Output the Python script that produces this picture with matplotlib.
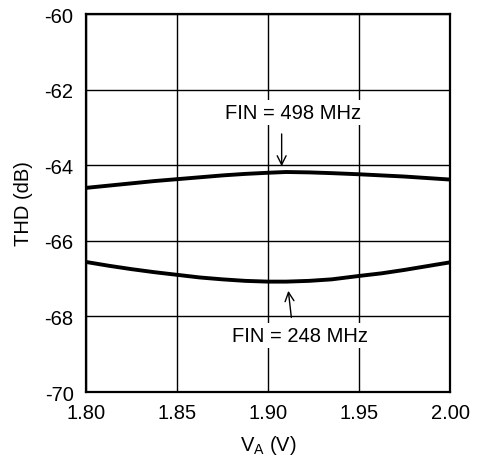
import matplotlib
matplotlib.use("Agg")
import matplotlib.pyplot as plt

plt.rcParams['font.family'] = ['Liberation Sans', 'DejaVu Sans']

va = [1.80, 1.8125, 1.825, 1.8375, 1.85, 1.8625, 1.875, 1.8875, 1.90, 1.91, 1.9225, 1.935, 1.95, 1.9625, 1.975, 1.9875, 2.00]
thd_498 = [-64.60, -64.54, -64.48, -64.42, -64.37, -64.32, -64.27, -64.23, -64.20, -64.18, -64.19, -64.21, -64.24, -64.27, -64.30, -64.34, -64.38]
thd_248 = [-66.56, -66.66, -66.75, -66.83, -66.90, -66.97, -67.02, -67.06, -67.08, -67.08, -67.06, -67.02, -66.93, -66.86, -66.77, -66.67, -66.57]
xticks = [1.80, 1.85, 1.90, 1.95, 2.00]
yticks = [-70, -68, -66, -64, -62, -60]

fs = 14.5

fig = plt.figure(figsize=(4.81, 4.64), dpi=100)
ax = fig.add_axes([86/481, 1-393/464, (450-86)/481, (393-15)/464])

ax.plot(va, thd_498, color='black', lw=2.8, solid_capstyle='butt', zorder=3)
ax.plot(va, thd_248, color='black', lw=2.8, solid_capstyle='butt', zorder=3)

ax.set_xlim(1.80, 2.00)
ax.set_ylim(-70, -60)
ax.set_xticks(xticks)
ax.set_xticklabels([f"{v:.2f}" for v in xticks])
ax.set_yticks(yticks)
ax.set_yticklabels([str(v) for v in yticks])
ax.tick_params(axis='y', length=0, labelsize=fs, pad=9)
ax.tick_params(axis='x', length=0, labelsize=fs, pad=8)
ax.grid(True, color='black', lw=1.0, zorder=1)
for s in ax.spines.values():
    s.set_linewidth(1.6)

ax.set_xlabel('V$_\\mathregular{A}$ (V)', fontsize=fs, labelpad=8)
ax.set_ylabel('THD (dB)', fontsize=fs, labelpad=8)

bb = dict(facecolor='white', edgecolor='none', pad=2)
ax.text(1.9135, -62.6, 'FIN = 498 MHz', ha='center', va='center', fontsize=fs, bbox=bb, zorder=4)
ax.annotate('', xy=(1.9075, -64.1), xytext=(1.9075, -63.1),
            arrowprops=dict(arrowstyle='->', color='black', lw=1.0, mutation_scale=16), zorder=4)
ax.text(1.9175, -68.5, 'FIN = 248 MHz', ha='center', va='center', fontsize=fs, bbox=bb, zorder=4)
ax.annotate('', xy=(1.911, -67.25), xytext=(1.913, -68.1),
            arrowprops=dict(arrowstyle='->', color='black', lw=1.0, mutation_scale=16), zorder=4)

fig.savefig('out.png', dpi=100)
